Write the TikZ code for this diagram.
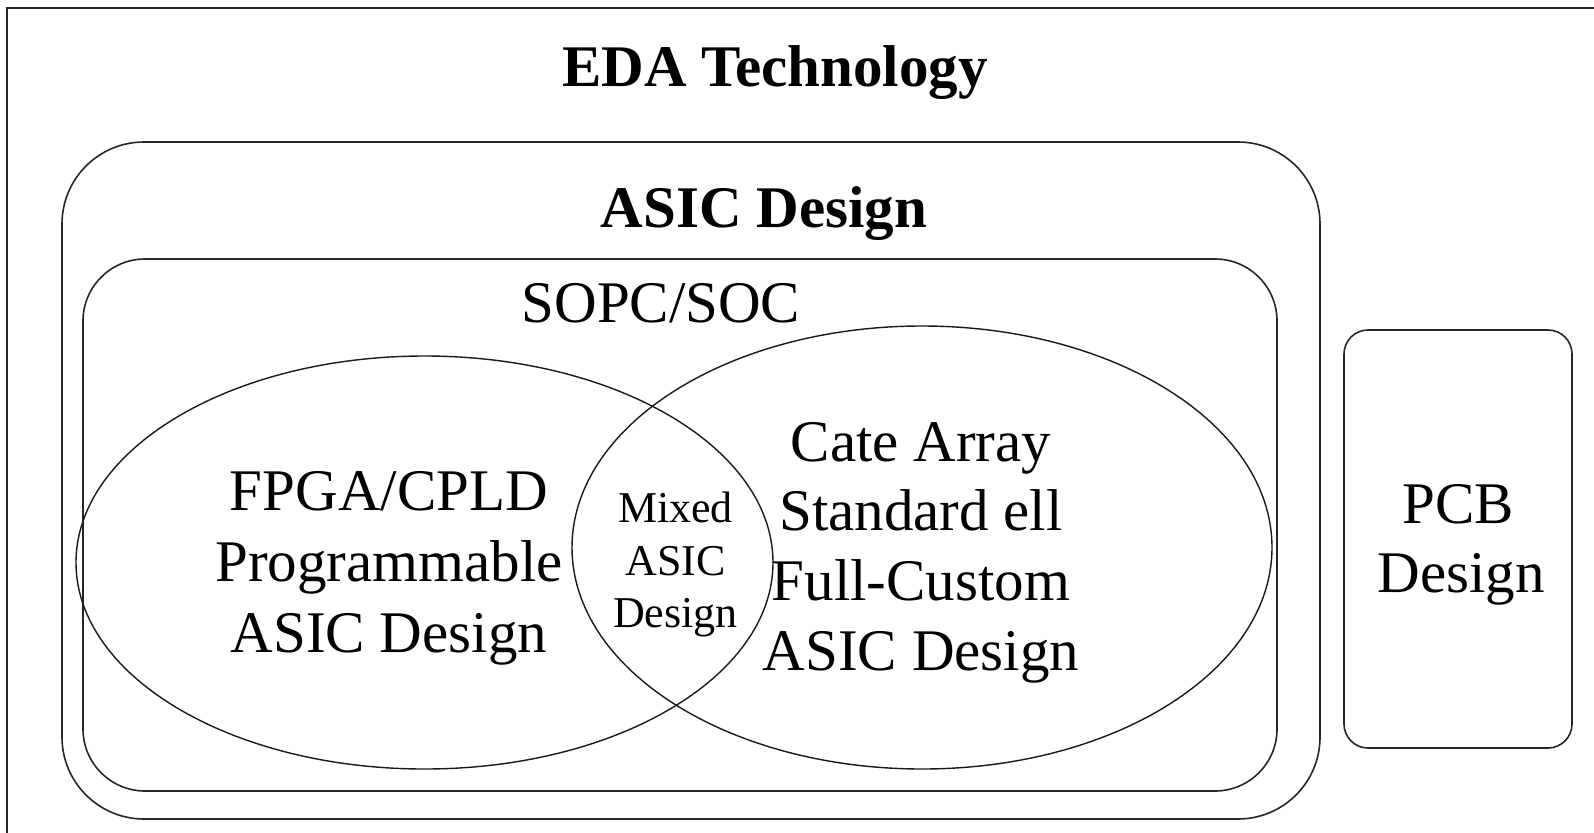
\documentclass[tikz,border=0pt]{standalone}
\usepackage{fontspec}
\setmainfont{Liberation Serif}
\begin{document}
\begin{tikzpicture}[x=1pt,y=-1pt,
  frame/.style={draw=black!85,line width=1.6pt},
  oval/.style={draw=black!90,line width=1.4pt},
  big/.style={font=\fontsize{59}{70}\selectfont,anchor=base,inner sep=0pt},
  bigb/.style={font=\fontsize{59}{70}\selectfont\bfseries,anchor=base,inner sep=0pt},
  small/.style={font=\fontsize{44}{52}\selectfont,anchor=base,inner sep=0pt}]
\useasboundingbox (0,0) rectangle (1594,832);
\clip (0,0) rectangle (1594,832);
\fill[white] (0,0) rectangle (1594,832);
% outer frame (extends past the picture)
\draw[frame] (7,8) rectangle (1640,880);
% ASIC design
\draw[frame,rounded corners=82pt] (62,142) rectangle (1320,819);
% SOPC/SOC
\draw[frame,rounded corners=62pt] (83,259) rectangle (1277,791);
% PCB
\draw[frame,rounded corners=24pt] (1344,330) rectangle (1572,748);
% ellipses
\draw[oval] (424.5,562.5) ellipse [x radius=348.5pt, y radius=206.5pt];
\draw[oval] (922,547.5) ellipse [x radius=350pt, y radius=221.5pt];
% texts
\node[bigb] (eda) at (775,87) {EDA Technology};
\node[bigb] (asic) at (764,227) {ASIC Design};
\node[big] (sopc) at (661,322) {SOPC/SOC};
\node[big] (l1) at (389,510) {FPGA/CPLD};
\node[big] (l2) at (389,581) {Programmable};
\node[big] (l3) at (389,652) {ASIC Design};
\node[small] (m1) at (675.5,522) {Mixed};
\node[small] (m2) at (675.5,575) {ASIC};
\node[small] (m3) at (675.5,627) {Design};
\node[big] (r1) at (921,461) {Cate Array};
\node[big] (r2) at (921,530) {Standard ell};
\node[big] (r3) at (921,600) {Full-Custom};
\node[big] (r4) at (921,670) {ASIC Design};
\node[big] (p1) at (1458,523) {PCB};
\node[big] (p2) at (1461,592) {Design};
\end{tikzpicture}
\end{document}
